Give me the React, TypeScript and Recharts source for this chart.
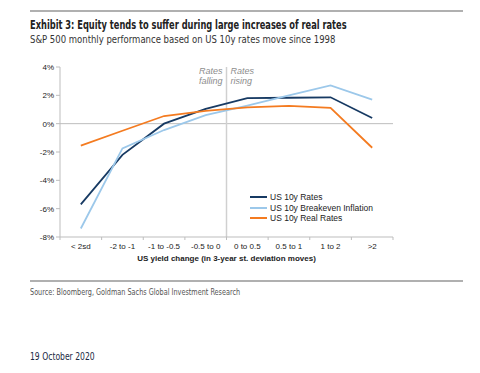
import React from "react";
import {
  LineChart,
  Line,
  XAxis,
  YAxis,
  ReferenceLine,
} from "recharts";

const categories = ["< 2sd", "-2 to -1", "-1 to -0.5", "-0.5 to 0", "0 to 0.5", "0.5 to 1", "1 to 2", ">2"];
const us10yRates = [-5.7, -2.2, 0.0, 1.05, 1.8, 1.83, 1.86, 0.4];
const breakevenInflation = [-7.4, -1.75, -0.45, 0.6, 1.27, 2.0, 2.7, 1.7];
const realRates = [-1.55, -0.5, 0.54, 0.9, 1.15, 1.25, 1.12, -1.7];
const yTicks = [-8, -6, -4, -2, 0, 2, 4];

const data = categories.map((c, i) => ({
  cat: c,
  rates: us10yRates[i],
  breakeven: breakevenInflation[i],
  real: realRates[i],
}));

const NAVY = "#173a63";
const LIGHT = "#9cc8ea";
const ORANGE = "#f47b20";
const AXIS = "#bdbdbd";
const COND = "'DejaVu Sans Condensed', 'DejaVu Sans', sans-serif";
const SANS = "'Liberation Sans', Arial, sans-serif";

const legendItems = [
  { name: "US 10y Rates", color: NAVY },
  { name: "US 10y Breakeven Inflation", color: LIGHT },
  { name: "US 10y Real Rates", color: ORANGE },
];

const DividerLabel = (props: any) => {
  const { viewBox } = props;
  const x = viewBox.x;
  const y = viewBox.y;
  const st = { fontFamily: SANS, fontSize: 9, fontStyle: "italic", fill: "#8c8c8c" } as const;
  return (
    <g>
      <text x={x - 4} y={y + 7} textAnchor="end" style={st}>Rates</text>
      <text x={x - 4} y={y + 17} textAnchor="end" style={st}>falling</text>
      <text x={x + 4} y={y + 7} textAnchor="start" style={st}>Rates</text>
      <text x={x + 4} y={y + 17} textAnchor="start" style={st}>rising</text>
    </g>
  );
};

// category label at band centre, tick marks at band edges
const CatTick = (props: any) => {
  const { x, y, payload, index, visibleTicksCount } = props;
  const half = payload.offset || 0;
  return (
    <g>
      <line x1={x - half} x2={x - half} y1={y} y2={y + 3} stroke={AXIS} />
      {index === visibleTicksCount - 1 && (
        <line x1={x + half} x2={x + half} y1={y} y2={y + 3} stroke={AXIS} />
      )}
      <text x={x} y={y + 11.5} textAnchor="middle" style={{ fontFamily: SANS, fontSize: 8, fill: "#222" }}>
        {payload.value}
      </text>
    </g>
  );
};

const cond = (scale: number): React.CSSProperties => ({
  transform: `scaleX(${scale})`,
  transformOrigin: "left top",
  whiteSpace: "nowrap",
});

export default function App() {
  return (
    <div style={{ position: "absolute", left: 0, top: 0, width: 480, height: 373, background: "#fff" }}>
      <div style={{ position: "absolute", left: 30, top: 10, width: 433, height: 2, background: "#b0b0b0" }} />
      <div style={{ position: "absolute", left: 30, top: 18, fontFamily: COND, fontWeight: "bold", fontSize: 11.5, color: "#222", ...cond(0.8) }}>
        Exhibit 3: Equity tends to suffer during large increases of real rates
      </div>
      <div style={{ position: "absolute", left: 30, top: 33, fontFamily: COND, fontSize: 10.5, color: "#333", ...cond(0.9) }}>
        S&amp;P 500 monthly performance based on US 10y rates move since 1998
      </div>

      <LineChart
        width={480}
        height={373}
        data={data}
        margin={{ top: 67, right: 87, bottom: 106, left: 0 }}
        style={{ position: "absolute", left: 0, top: 0 }}
      >
        <XAxis
          dataKey="cat"
          scale="band"
          height={30}
          axisLine={{ stroke: AXIS }}
          tickLine={false}
          tickSize={0}
          tickMargin={0}
          interval={0}
          tick={<CatTick />}
          label={{
            value: "US yield change (in 3-year st. deviation moves)",
            position: "insideBottom",
            offset: 6,
            style: { fontFamily: SANS, fontSize: 8, fontWeight: "bold", fill: "#222" },
          }}
        />
        <YAxis
          width={60}
          domain={[-8, 4]}
          ticks={yTicks}
          tickFormatter={(v) => `${v}%`}
          tick={{ fontFamily: SANS, fontSize: 8, fill: "#222" }}
          tickSize={4}
          axisLine={{ stroke: AXIS }}
          tickLine={{ stroke: AXIS }}
        />
        <ReferenceLine y={0} stroke={AXIS} strokeWidth={1} />
        <ReferenceLine
          x="0 to 0.5"
          position="start"
          stroke="#d0d0d0"
          strokeWidth={1.5}
          label={<DividerLabel />}
        />
        <Line dataKey="rates" name="US 10y Rates" stroke={NAVY} strokeWidth={1.8} dot={false} isAnimationActive={false} type="linear" />
        <Line dataKey="breakeven" name="US 10y Breakeven Inflation" stroke={LIGHT} strokeWidth={1.8} dot={false} isAnimationActive={false} type="linear" />
        <Line dataKey="real" name="US 10y Real Rates" stroke={ORANGE} strokeWidth={1.8} dot={false} isAnimationActive={false} type="linear" />
      </LineChart>

      <div style={{ position: "absolute", left: 250, top: 192 }}>
        {legendItems.map((it) => (
          <div key={it.name} style={{ display: "flex", alignItems: "center", height: 10.5 }}>
            <div style={{ width: 17, height: 2, background: it.color, marginRight: 3 }} />
            <span style={{ fontFamily: SANS, fontSize: 8.5, color: "#222", whiteSpace: "nowrap" }}>{it.name}</span>
          </div>
        ))}
      </div>

      <div style={{ position: "absolute", left: 30, top: 280, width: 433, height: 2, background: "#b0b0b0" }} />
      <div style={{ position: "absolute", left: 30, top: 287, fontFamily: COND, fontSize: 8.5, color: "#555", ...cond(0.85) }}>
        Source: Bloomberg, Goldman Sachs Global Investment Research
      </div>
      <div style={{ position: "absolute", left: 30, top: 351, fontFamily: COND, fontSize: 10, color: "#1a2a44", ...cond(0.85) }}>
        19 October 2020
      </div>
    </div>
  );
}
